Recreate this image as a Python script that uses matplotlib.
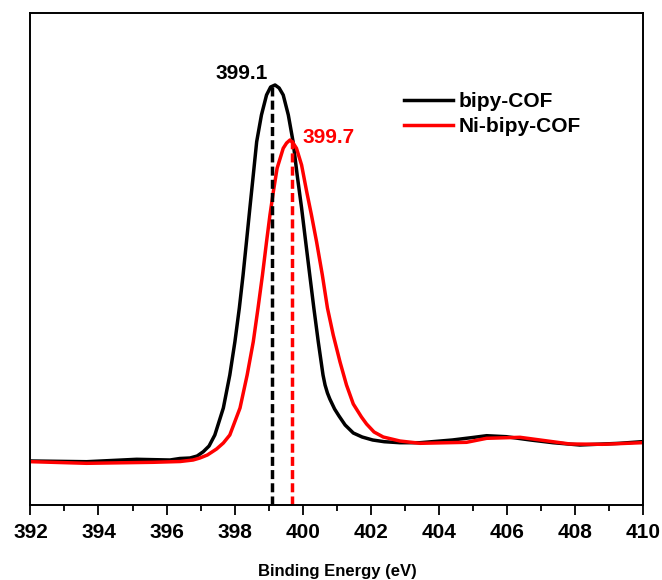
import matplotlib.pyplot as plt
from matplotlib.ticker import MultipleLocator

plt.rcParams['font.family'] = ['Liberation Sans', 'DejaVu Sans']
plt.rcParams['font.weight'] = 'bold'

# N 1s spectra (binding energy in eV, intensity in a.u.)
be_bipy = [392.04, 393.65, 395.12, 396.10, 396.39, 396.69, 396.90, 397.08,
           397.25, 397.42, 397.67, 397.86, 398.01, 398.14, 398.25, 398.35,
           398.45, 398.55, 398.65, 398.79, 398.94, 399.06, 399.19, 399.31,
           399.43, 399.58, 399.72, 399.84, 399.97, 400.09, 400.21, 400.33,
           400.46, 400.60, 400.66, 400.73, 400.80, 400.94, 401.07, 401.25,
           401.49, 401.75, 402.06, 402.40, 402.86, 403.45, 404.40, 405.00,
           405.41, 405.99, 406.70, 407.36, 408.15, 409.32, 409.97]
int_bipy = [44.0, 43.3, 45.7, 45.0, 46.5, 47.0, 49.0, 53.3,
            59.0, 70.0, 97.0, 130.0, 163.3, 197.0, 230.0, 263.3,
            297.0, 330.0, 363.3, 390.0, 410.0, 418.0, 420.0, 417.0,
            410.0, 390.0, 363.3, 330.0, 297.0, 263.3, 230.0, 197.0,
            163.3, 130.0, 120.0, 112.0, 106.0, 96.0, 89.0, 80.0,
            72.0, 68.0, 65.0, 63.3, 62.3, 62.3, 65.0, 67.5,
            69.3, 68.3, 65.0, 62.3, 60.0, 61.7, 63.3]

be_ni = [392.04, 393.65, 395.60, 396.40, 396.78, 396.98, 397.20, 397.47,
         397.67, 397.86, 398.16, 398.37, 398.55, 398.69, 398.82, 398.94,
         399.04, 399.14, 399.25, 399.43, 399.53, 399.63, 399.72, 399.82,
         399.97, 400.12, 400.26, 400.41, 400.58, 400.73, 400.90, 401.10,
         401.29, 401.49, 401.73, 401.88, 402.10, 402.37, 402.86, 403.45,
         404.82, 405.41, 406.39, 407.86, 408.82, 409.97]
int_ni = [43.3, 41.7, 42.7, 43.5, 45.0, 47.0, 50.0, 56.0,
          62.0, 70.0, 97.0, 130.0, 163.3, 197.0, 230.0, 263.3,
          290.0, 313.3, 336.7, 356.7, 362.0, 365.0, 362.0, 356.7,
          340.0, 313.3, 290.0, 263.3, 230.0, 197.0, 170.0, 143.0,
          120.0, 101.0, 88.0, 81.0, 73.0, 68.0, 64.0, 61.7,
          62.7, 66.7, 67.7, 61.0, 60.7, 62.3]

peak_bipy = 399.1
peak_ni = 399.7

fig = plt.figure(figsize=(6.62, 5.8), dpi=100)
ax = fig.add_axes([0.046, 0.1293, 0.925, 0.8483])

ax.plot(be_bipy, int_bipy, color='black', lw=2.5, label='bipy-COF',
        solid_joinstyle='round')
ax.plot(be_ni, int_ni, color='red', lw=2.5, label='Ni-bipy-COF',
        solid_joinstyle='round')

# peak position markers
ax.plot([peak_bipy, peak_bipy], [0, max(int_bipy)], color='black', lw=2.5,
        ls=(0, (2.6, 1.2)))
ax.plot([peak_ni, peak_ni], [0, max(int_ni)], color='red', lw=2.5,
        ls=(0, (2.6, 1.2)))
ax.text(peak_bipy - 0.12, max(int_bipy) + 11, '399.1', color='black',
        fontsize=15, fontweight='bold', ha='right', va='center')
ax.text(peak_ni + 0.3, max(int_ni) + 2, '399.7', color='red',
        fontsize=15, fontweight='bold', ha='left', va='center')

ax.set_xlim(392, 410)
ax.set_ylim(0, 492)
ax.xaxis.set_major_locator(MultipleLocator(2))
ax.xaxis.set_minor_locator(MultipleLocator(1))
ax.tick_params(axis='x', which='major', direction='out', length=7, width=1.3,
               labelsize=15, pad=6)
ax.tick_params(axis='x', which='minor', direction='out', length=4.5, width=1.3)
ax.set_yticks([])
for lbl in ax.get_xticklabels():
    lbl.set_fontweight('bold')
for s in ax.spines.values():
    s.set_linewidth(1.4)

fig.text(0.509, 0.002, 'Binding Energy (eV)', fontsize=12, fontweight='bold',
         ha='center', va='bottom')

ax.legend(loc='upper left', bbox_to_anchor=(0.596, 0.856), frameon=False,
          handlelength=2.35, handletextpad=0.3, labelspacing=0.3,
          borderaxespad=0, prop={'weight': 'bold', 'size': 15})

fig.savefig('out.png', dpi=100)
